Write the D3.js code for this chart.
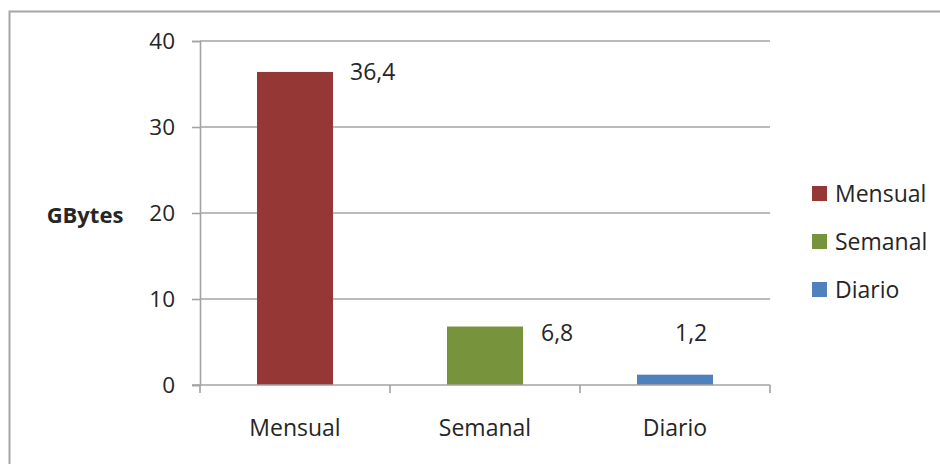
<!DOCTYPE html>
<html>
<head>
<meta charset="utf-8">
<script src="https://cdn.jsdelivr.net/npm/d3@7"></script>
<style>
  html, body { margin: 0; padding: 0; background: #fff; }
  svg { display: block; font-family: "Open Sans", sans-serif; }
</style>
</head>
<body>
<svg id="chart" width="940" height="464"></svg>
<script>
// Storage used per backup period (GB)
const categories = ["Mensual", "Semanal", "Diario"];
const values = [36.4, 6.8, 1.2];
const valueLabels = ["36,4", "6,8", "1,2"];
const colors = ["#953735", "#77933C", "#4F81BD"];
const yTicks = [0, 10, 20, 30, 40];
const yTitle = "GBytes";

// Hand-placed data label nudges, relative to the bar's top-right corner
const labelNudge = [[17, 0], [18, 6], [-38, -42]];

const svg = d3.select("#chart");
const gridColor = "#a3a3a3";
const textColor = "#262626";

// Chart area frame (open to the right and bottom)
svg.append("rect")
  .attr("x", 9.5).attr("y", 11.5)
  .attr("width", 960).attr("height", 480)
  .attr("fill", "none")
  .attr("stroke", "#a6a6a6")
  .attr("stroke-width", 2);

const plot = { left: 200, right: 770, top: 41, bottom: 385 };

const x = d3.scaleBand()
  .domain(categories)
  .range([plot.left, plot.right])
  .paddingInner(0.6)
  .paddingOuter(0.3);

const y = d3.scaleLinear()
  .domain([0, 40])
  .range([plot.bottom, plot.top]);

// Horizontal gridlines
svg.append("g")
  .selectAll("line")
  .data(yTicks.filter(t => t > 0))
  .join("line")
  .attr("x1", plot.left).attr("x2", plot.right)
  .attr("y1", d => y(d)).attr("y2", d => y(d))
  .attr("stroke", gridColor)
  .attr("stroke-width", 1.6);

// Y axis
const yAxis = svg.append("g")
  .attr("transform", `translate(${plot.left},0)`)
  .call(d3.axisLeft(y).tickValues(yTicks).tickSize(8).tickPadding(17).tickFormat(d3.format("d")));
yAxis.select(".domain").attr("stroke", gridColor).attr("stroke-width", 1.6);
yAxis.selectAll(".tick line").attr("stroke", gridColor).attr("stroke-width", 1.6);
yAxis.selectAll(".tick text")
  .attr("fill", textColor)
  .style("font-size", "22.5px")
  .style("font-family", "'Open Sans', sans-serif");

// Bars
svg.append("g")
  .selectAll("rect")
  .data(values)
  .join("rect")
  .attr("x", (d, i) => x(categories[i]))
  .attr("y", d => y(d))
  .attr("width", x.bandwidth())
  .attr("height", d => y(0) - y(d))
  .attr("fill", (d, i) => colors[i]);

// X axis baseline
svg.append("line")
  .attr("x1", plot.left - 8).attr("x2", plot.right)
  .attr("y1", y(0)).attr("y2", y(0))
  .attr("stroke", gridColor)
  .attr("stroke-width", 1.6);

// Category boundary ticks
const boundaries = [plot.left].concat(categories.map(c => x(c) - x.step() * x.paddingOuter() + x.step()));
svg.append("g")
  .selectAll("line")
  .data(boundaries)
  .join("line")
  .attr("x1", d => d).attr("x2", d => d)
  .attr("y1", y(0)).attr("y2", y(0) + 8)
  .attr("stroke", gridColor)
  .attr("stroke-width", 1.6);

// Category labels
svg.append("g")
  .selectAll("text")
  .data(categories)
  .join("text")
  .attr("x", d => x(d) + x.bandwidth() / 2)
  .attr("y", 436)
  .attr("text-anchor", "middle")
  .attr("fill", textColor)
  .style("font-size", "23px")
  .text(d => d);

// Value labels
svg.append("g")
  .selectAll("text")
  .data(values)
  .join("text")
  .attr("x", (d, i) => x(categories[i]) + x.bandwidth() + labelNudge[i][0])
  .attr("y", (d, i) => y(d) + labelNudge[i][1])
  .attr("dy", "0.36em")
  .attr("fill", textColor)
  .style("font-size", "23px")
  .text((d, i) => valueLabels[i]);

// Axis title
svg.append("text")
  .attr("x", 85)
  .attr("y", 215)
  .attr("dy", "0.36em")
  .attr("text-anchor", "middle")
  .attr("fill", textColor)
  .style("font-size", "22px")
  .style("font-weight", "bold")
  .text(yTitle);

// Legend
const legend = svg.append("g")
  .selectAll("g")
  .data(categories)
  .join("g")
  .attr("transform", (d, i) => `translate(812,${186 + i * 48})`);
legend.append("rect")
  .attr("width", 15).attr("height", 15)
  .attr("fill", (d, i) => colors[i]);
legend.append("text")
  .attr("x", 23)
  .attr("y", 7.5)
  .attr("dy", "0.36em")
  .attr("fill", textColor)
  .style("font-size", "23px")
  .text(d => d);
</script>
</body>
</html>
